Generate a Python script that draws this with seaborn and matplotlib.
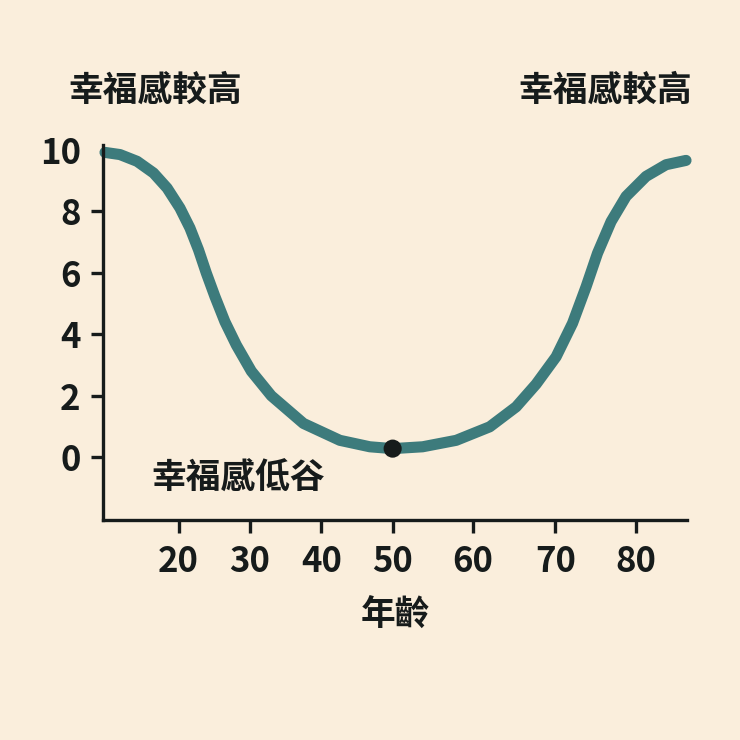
import matplotlib
matplotlib.use("Agg")
import matplotlib.pyplot as plt
import seaborn as sns
import pandas as pd

# 讀圖估計的數值
age = [9.7, 11.8, 14.2, 16.5, 18.4, 20.2, 21.6, 22.8, 23.9, 25.1, 26.5, 28.1, 30.2,
       33.0, 37.5, 42.6, 46.8, 50.0, 54.2, 58.9, 63.6, 67.3, 70.1, 72.9, 75.2,
       77.1, 78.7, 80.6, 82.7, 85.5, 88.3, 91.1]
happiness = [9.92, 9.85, 9.63, 9.25, 8.76, 8.11, 7.46, 6.75, 5.99, 5.23, 4.41, 3.65, 2.80,
             2.00, 1.10, 0.55, 0.34, 0.28, 0.34, 0.55, 0.99, 1.64, 2.38, 3.27, 4.36,
             5.55, 6.64, 7.67, 8.49, 9.14, 9.52, 9.66]

low_age = [50.0]
low_value = [0.28]

x_tick_pos = [20, 30, 40, 50, 61.2, 72.8, 84.1]
x_tick_labels = ["20", "30", "40", "50", "60", "70", "80"]
y_ticks = [0, 2, 4, 6, 8, 10]

bg = "#FAEEDC"
teal = "#3D7B7C"
ink = "#161B1B"

sns.set_theme(style="ticks")
plt.rcParams["font.family"] = ["Noto Sans CJK TC", "DejaVu Sans"]

df = pd.DataFrame({"年齡": age, "幸福感": happiness})

fig = plt.figure(figsize=(7.4, 7.4), dpi=100, facecolor=bg)
ax = fig.add_axes([0.139, 0.297, 0.790, 0.507])
ax.set_facecolor(bg)

sns.lineplot(data=df, x="年齡", y="幸福感", ax=ax, color=teal, linewidth=8,
             solid_capstyle="round", solid_joinstyle="round", clip_on=False)
sns.scatterplot(x=low_age, y=low_value, ax=ax, color=ink, s=170, zorder=5,
                edgecolor="none", clip_on=False)

ax.set_xlim(9.4, 91.3)
ax.set_ylim(-2.05, 10.16)
ax.set_xticks(x_tick_pos)
ax.set_xticklabels(x_tick_labels)
ax.set_yticks(y_ticks)
ax.set_yticklabels([str(v) for v in y_ticks])

for side in ["top", "right"]:
    ax.spines[side].set_visible(False)
for side in ["left", "bottom"]:
    ax.spines[side].set_linewidth(2.4)
    ax.spines[side].set_color(ink)

ax.tick_params(axis="both", length=9, width=2.4, color=ink, labelsize=25,
               labelcolor=ink, pad=7)
ax.tick_params(axis="x", pad=8)
ax.yaxis.get_major_ticks()[-1].tick1line.set_visible(False)
for lab in ax.get_xticklabels() + ax.get_yticklabels():
    lab.set_fontweight("bold")

ax.set_xlabel("年齡", fontsize=25, color=ink, fontweight="bold", labelpad=14)
ax.set_ylabel("")

fig.text(0.092, 0.878, "幸福感較高", fontsize=25, color=ink, fontweight="bold",
         ha="left", va="center")
fig.text(0.935, 0.878, "幸福感較高", fontsize=25, color=ink, fontweight="bold",
         ha="right", va="center")
fig.text(0.205, 0.354, "幸福感低谷", fontsize=25, color=ink, fontweight="bold",
         ha="left", va="center")

fig.savefig("out.png", dpi=100, facecolor=bg)
